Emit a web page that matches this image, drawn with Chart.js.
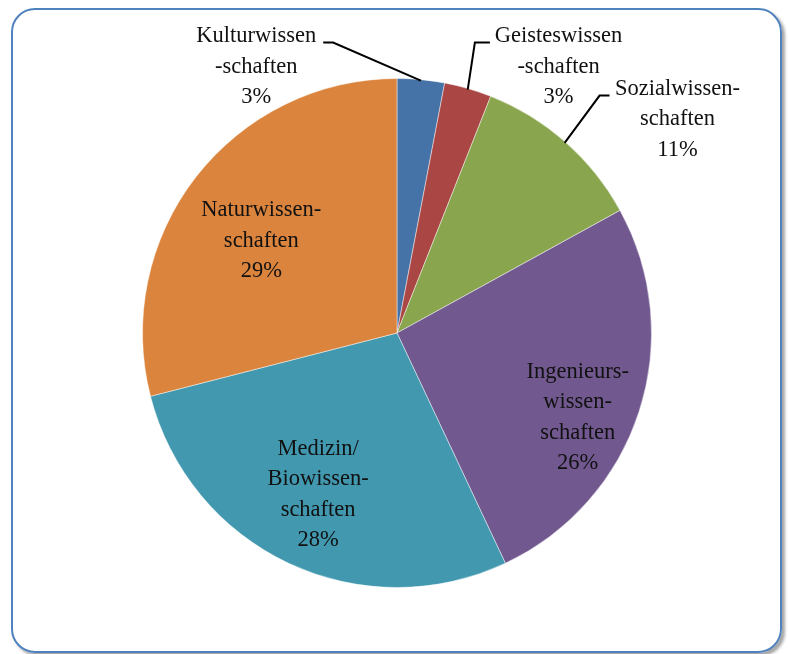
<!DOCTYPE html>
<html>
<head>
<meta charset="utf-8">
<script src="https://cdn.jsdelivr.net/npm/chart.js@4"></script>
<style>
  html, body { margin: 0; padding: 0; background: #fff; }
  #wrap { position: relative; width: 788px; height: 654px; overflow: hidden; }
  #frame {
    position: absolute; left: 11px; top: 8px; width: 767px; height: 641px;
    border: 2.5px solid #4f81bd; border-radius: 24px;
    box-shadow: 3px 3px 3px rgba(0,0,0,0.35);
  }
  canvas { position: absolute; left: 0; top: 0; }
</style>
</head>
<body>
<div id="wrap">
  <div id="frame"></div>
  <canvas id="pie" width="788" height="654"></canvas>
</div>
<script>
// Fächerverteilung, Anteile in Prozent (im Uhrzeigersinn ab 12 Uhr)
const categories = [
  "Kulturwissenschaften",
  "Geisteswissenschaften",
  "Sozialwissenschaften",
  "Ingenieurswissenschaften",
  "Medizin/Biowissenschaften",
  "Naturwissenschaften",
]
const shares = [3, 3, 11, 26, 28, 29]
// Beschriftungszeilen je Segment (Silbentrennung wie im Original)
const labelLines = [
  ["Kulturwissen", "-schaften"],
  ["Geisteswissen", "-schaften"],
  ["Sozialwissen-", "schaften"],
  ["Ingenieurs-", "wissen-", "schaften"],
  ["Medizin/", "Biowissen-", "schaften"],
  ["Naturwissen-", "schaften"],
]
const colors = ["#4572a7", "#aa4643", "#89a54e", "#71588f", "#4198af", "#db843d"]

// Lage der Textblöcke relativ zum Kreismittelpunkt, in Vielfachen des Radius.
// leader: Start und Knick der Führungslinie für Segmente mit Außenbeschriftung.
const LAYOUT = [
  { dx: -0.553, dy: -1.045, leader: [[-0.290, -1.141], [-0.251, -1.141]] },
  { dx:  0.635, dy: -1.045, leader: [[ 0.365, -1.141], [ 0.306, -1.141]] },
  { dx:  1.102, dy: -0.839, leader: [[ 0.835, -0.933], [ 0.796, -0.933]] },
  { dx:  0.710, dy:  0.333 },
  { dx: -0.310, dy:  0.635 },
  { dx: -0.533, dy: -0.363 },
]
const LINE_H = 30.5

const sliceLabels = {
  id: "sliceLabels",
  afterDatasetsDraw(chart) {
    const { ctx } = chart
    const arcs = chart.getDatasetMeta(0).data
    ctx.save()
    ctx.font = '22.5px "Liberation Serif", "DejaVu Serif", serif'
    ctx.fillStyle = "#111"
    ctx.textAlign = "center"
    ctx.textBaseline = "middle"
    arcs.forEach((arc, i) => {
      const { x, y, outerRadius: r, startAngle, endAngle } = arc.getProps(["x", "y", "outerRadius", "startAngle", "endAngle"], true)
      const pos = LAYOUT[i]
      const lines = [...labelLines[i], shares[i] + "%"]
      const bx = x + pos.dx * r
      const by = y + pos.dy * r - (lines.length - 1) * LINE_H / 2
      lines.forEach((t, k) => ctx.fillText(t, bx, by + k * LINE_H))

      if (pos.leader) {
        const mid = (startAngle + endAngle) / 2
        ctx.beginPath()
        ctx.lineWidth = 2
        ctx.strokeStyle = "#000"
        ctx.moveTo(x + pos.leader[0][0] * r, y + pos.leader[0][1] * r)
        ctx.lineTo(x + pos.leader[1][0] * r, y + pos.leader[1][1] * r)
        ctx.lineTo(x + Math.cos(mid) * (r - 1), y + Math.sin(mid) * (r - 1))
        ctx.stroke()
      }
    })
    ctx.restore()
  },
}

new Chart(document.getElementById("pie"), {
  type: "pie",
  data: {
    labels: categories,
    datasets: [{
      data: shares,
      backgroundColor: colors,
      borderColor: "rgba(255,255,255,0.45)",
      borderWidth: 1,
    }],
  },
  options: {
    responsive: false,
    animation: false,
    layout: { padding: { top: 78, bottom: 66, left: 142, right: 136 } },
    plugins: { legend: { display: false }, tooltip: { enabled: false } },
  },
  plugins: [sliceLabels],
})
</script>
</body>
</html>
